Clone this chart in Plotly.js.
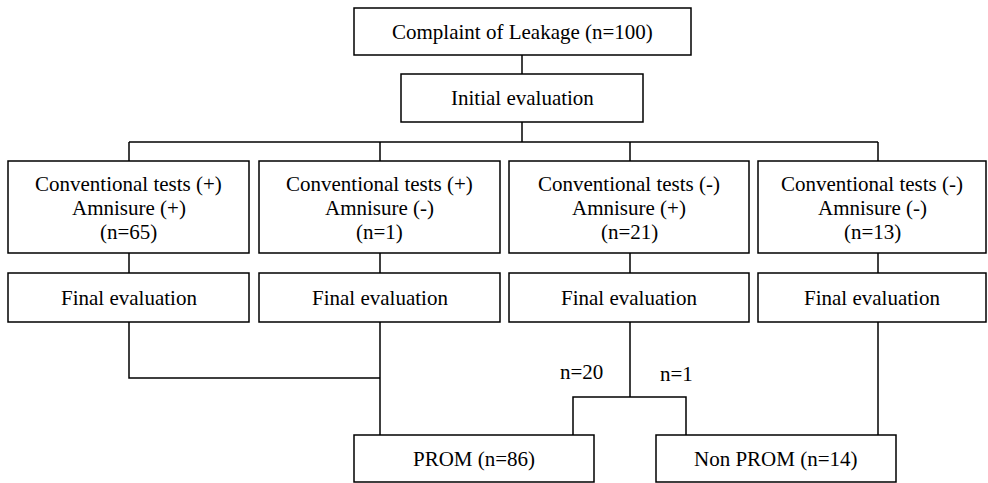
<!DOCTYPE html>
<html>
<head>
<meta charset="utf-8">
<script src="https://cdn.plot.ly/plotly-3.0.1.min.js"></script>
</head>
<body style="margin:0">
<div id="chart"></div>
<script>
// ---- data ----
const topLabel = "Complaint of Leakage";
const totalN = 100;
const initialLabel = "Initial evaluation";
const conventionalResult = ["(+)", "(+)", "(-)", "(-)"];
const amnisureResult = ["(+)", "(-)", "(+)", "(-)"];
const groupN = [65, 1, 21, 13];
const finalLabel = "Final evaluation";
const outcomeLabels = ["PROM", "Non PROM"];
const outcomeN = [86, 14];
const splitN = [20, 1];

// ---- geometry (layout only) ----
const G = {
  top: {x0: 354, x1: 691, y0: 8, y1: 55},
  init: {x0: 401, x1: 643, y0: 74, y1: 122},
  busY: 142,
  cols: [
    {x0: 8, x1: 249, cx: 129},
    {x0: 259, x1: 500, cx: 380},
    {x0: 509, x1: 749, cx: 630},
    {x0: 758, x1: 986, cx: 878}
  ],
  groupY: [161, 253],
  finalY: [273, 322],
  mergeY: 378,
  splitY: 397,
  splitX: [573, 686],
  outcome: [{x0: 354, x1: 594}, {x0: 656, x1: 896}],
  outcomeY: [435, 482],
  splitLabel: [{x: 581, y: 372}, {x: 676, y: 374}],
  lineGap: 24
};

const LW = 1.5;
const shapes = [];
const annotations = [];

function box(x0, x1, y0, y1) {
  shapes.push({type: "rect", xref: "x", yref: "y", x0, x1, y0, y1, line: {color: "#000", width: LW}, fillcolor: "#fff", layer: "below"});
}
function path(pts) {
  const d = pts.map((p, i) => (i ? "L" : "M") + p[0] + "," + p[1]).join(" ");
  shapes.push({type: "path", xref: "x", yref: "y", path: d, line: {color: "#000", width: LW}, layer: "below"});
}
function text(t, x, y) {
  annotations.push({x, y, xref: "x", yref: "y",
    text: "<span style=\"font-family:'Liberation Serif','Times New Roman',serif\">" + t + "</span>",
    showarrow: false, font: {family: "Times New Roman", size: 21, color: "#000"},
    xanchor: "center", yanchor: "middle"});
}
function lines(arr, x, yc) {
  const n = arr.length;
  arr.forEach((t, i) => text(t, x, yc + (i - (n - 1) / 2) * G.lineGap));
}

// connectors first (drawn beneath boxes)
const midX = (G.init.x0 + G.init.x1) / 2;
const C = G.cols;
path([[midX, G.top.y1], [midX, G.init.y0]]);
path([[midX, G.init.y1], [midX, G.busY]]);
path([[C[0].cx, G.busY], [C[C.length - 1].cx, G.busY]]);
C.forEach(c => {
  path([[c.cx, G.busY], [c.cx, G.groupY[0]]]);
  path([[c.cx, G.groupY[1]], [c.cx, G.finalY[0]]]);
});
path([[C[0].cx, G.finalY[1]], [C[0].cx, G.mergeY], [C[1].cx, G.mergeY]]);
path([[C[1].cx, G.finalY[1]], [C[1].cx, G.outcomeY[0]]]);
path([[C[2].cx, G.finalY[1]], [C[2].cx, G.splitY]]);
path([[G.splitX[0], G.outcomeY[0]], [G.splitX[0], G.splitY], [G.splitX[1], G.splitY], [G.splitX[1], G.outcomeY[0]]]);
path([[C[3].cx, G.finalY[1]], [C[3].cx, G.outcomeY[0]]]);

box(G.top.x0, G.top.x1, G.top.y0, G.top.y1);
text(topLabel + " (n=" + totalN + ")", (G.top.x0 + G.top.x1) / 2, (G.top.y0 + G.top.y1) / 2);
box(G.init.x0, G.init.x1, G.init.y0, G.init.y1);
text(initialLabel, (G.init.x0 + G.init.x1) / 2, (G.init.y0 + G.init.y1) / 2);

groupN.forEach((n, i) => {
  const c = C[i];
  box(c.x0, c.x1, G.groupY[0], G.groupY[1]);
  lines(["Conventional tests " + conventionalResult[i], "Amnisure " + amnisureResult[i], "(n=" + n + ")"],
        (c.x0 + c.x1) / 2, (G.groupY[0] + G.groupY[1]) / 2 + 1);
  box(c.x0, c.x1, G.finalY[0], G.finalY[1]);
  text(finalLabel, (c.x0 + c.x1) / 2, (G.finalY[0] + G.finalY[1]) / 2);
});

splitN.forEach((n, i) => text("n=" + n, G.splitLabel[i].x, G.splitLabel[i].y));

outcomeLabels.forEach((lab, i) => {
  const o = G.outcome[i];
  box(o.x0, o.x1, G.outcomeY[0], G.outcomeY[1]);
  text(lab + " (n=" + outcomeN[i] + ")", (o.x0 + o.x1) / 2, (G.outcomeY[0] + G.outcomeY[1]) / 2);
});

const layout = {
  width: 988, height: 483,
  margin: {l: 0, r: 0, t: 0, b: 0, pad: 0},
  paper_bgcolor: "#fff", plot_bgcolor: "#fff",
  xaxis: {range: [0, 988], visible: false},
  yaxis: {range: [483, 0], visible: false},
  shapes, annotations, showlegend: false
};
Plotly.newPlot("chart", [], layout, {displayModeBar: false});
</script>
</body>
</html>
